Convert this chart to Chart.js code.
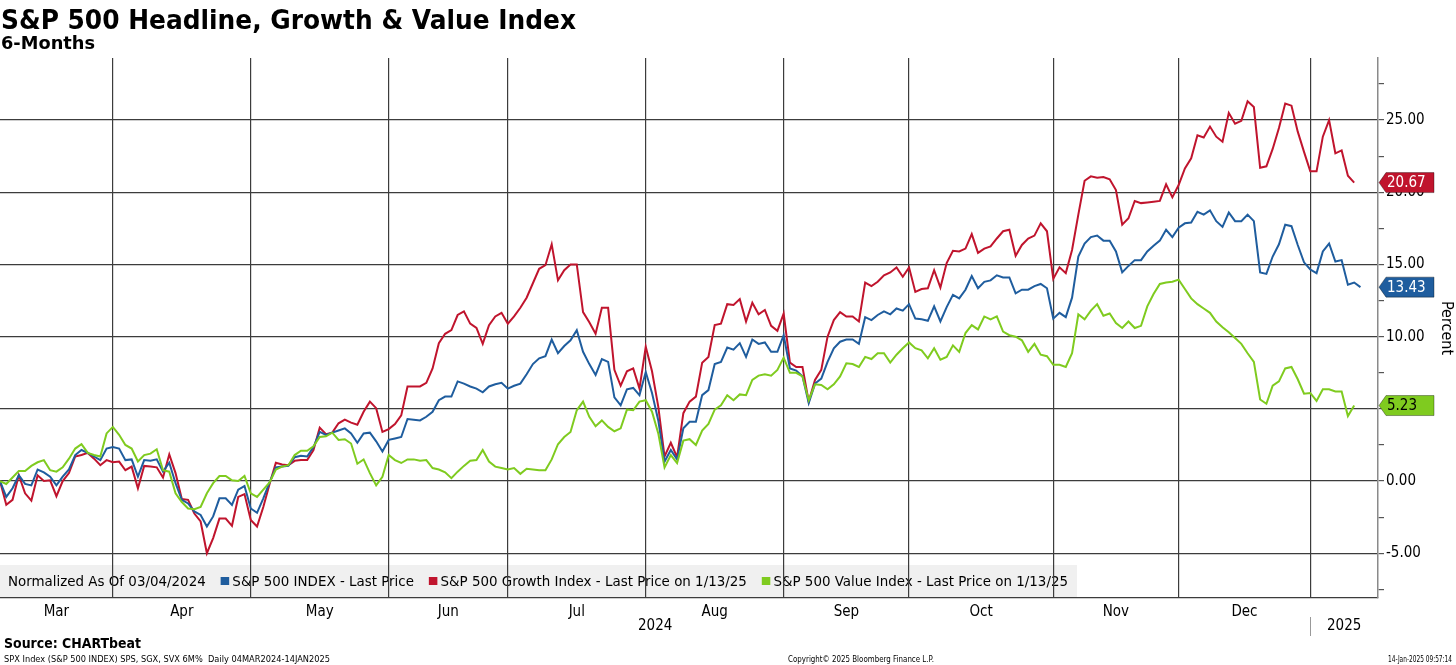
<!DOCTYPE html>
<html>
<head>
<meta charset="utf-8">
<script src="https://cdn.jsdelivr.net/npm/chart.js@4.4.1/dist/chart.umd.min.js"></script>
<style>
html, body { margin: 0; padding: 0; background: #fff; overflow: hidden; }
#wrap { position: relative; width: 1456px; height: 665px; }
canvas { position: absolute; left: 0; top: 0; }
.t { position: absolute; white-space: nowrap; color: #000; font-family: "DejaVu Sans", Verdana, sans-serif; transform-origin: 0 0; line-height: 1; }
</style>
</head>
<body>
<div id="wrap">
  <canvas id="myChart" width="1456" height="665"></canvas>
  <div class="t" data-w="575" style="left:1px;top:6px;font-size:27px;font-weight:bold">S&amp;P 500 Headline, Growth &amp; Value Index</div>
  <div class="t" data-w="94" style="left:1px;top:35px;font-size:17px;font-weight:bold">6-Months</div>
  <div class="t" data-w="137" style="left:4px;top:636px;font-size:14px;font-weight:bold">Source: CHARTbeat</div>
  <div class="t" data-w="326" style="left:4px;top:655px;font-size:9px">SPX Index (S&amp;P 500 INDEX) SPS, SGX, SVX 6M%&nbsp; Daily 04MAR2024-14JAN2025</div>
  <div class="t" data-w="146" style="left:788px;top:655px;font-size:9px">Copyright© 2025 Bloomberg Finance L.P.</div>
  <div class="t" data-w="64" style="left:1388px;top:655px;font-size:9px">14-Jan-2025 09:57:14</div>
</div>
<script>
// month labels and the index of the last trading day of each month (gridlines)
const monthLabels = ['Mar', 'Apr', 'May', 'Jun', 'Jul', 'Aug', 'Sep', 'Oct', 'Nov', 'Dec'];
const monthEnds = [18, 40, 62, 81, 103, 125, 145, 168, 188, 209];
const yearLabels = ['2024', '2025'];
const legendNote = 'Normalized As Of 03/04/2024';
const seriesNames = ['S&P 500 INDEX - Last Price', 'S&P 500 Growth Index - Last Price on 1/13/25', 'S&P 500 Value Index - Last Price on 1/13/25'];

// % change since 03/04/2024, one value per trading day
const spx = [
  0, -1.1, -0.5, 0.4, -0.2, -0.3, 0.8, 0.6, 0.3, -0.3, 0.3, 0.8, 1.8, 2.15, 1.95, 1.7, 1.45, 2.25, 2.35,
  2.25, 1.45, 1.5, 0.3, 1.45, 1.4, 1.5, 0.65, 1.27, -0.15, -1.3, -1.55, -2.1, -2.35, -3.15, -2.45, -1.2, -1.2, -1.65, -0.6, -0.35, -1.9,
  -2.2, -1.2, -0.1, 0.95, 1.0, 1.05, 1.65, 1.75, 1.7, 2.35, 3.4, 3.2, 3.35, 3.5, 3.65, 3.3, 2.65, 3.3, 3.35, 2.75, 2.05, 2.85,
  2.95, 3.05, 4.3, 4.25, 4.2, 4.45, 4.8, 5.6, 5.85, 5.85, 6.9, 6.75, 6.55, 6.4, 6.15, 6.55, 6.7, 6.8, 6.4,
  6.6, 6.75, 7.4, 8.1, 8.5, 8.65, 9.8, 8.85, 9.35, 9.75, 10.45, 8.95, 8.1, 7.35, 8.45, 8.25, 5.8, 5.25, 6.35, 6.45, 5.95, 7.55,
  6.1, 4.2, 1.35, 2.15, 1.5, 3.65, 4.1, 4.1, 5.95, 6.3, 8.1, 8.25, 9.25, 9.1, 9.55, 8.6, 9.8, 9.5, 9.6, 8.95, 8.95, 10.1,
  7.8, 7.65, 7.25, 5.4, 6.75, 7.1, 8.25, 9.2, 9.65, 9.8, 9.8, 9.5, 11.35, 11.15, 11.5, 11.75, 11.55, 11.95, 11.8, 12.25,
  11.25, 11.2, 11.1, 12.1, 11.05, 12.05, 12.9, 12.65, 13.25, 14.2, 13.35, 13.8, 13.9, 14.25, 14.1, 14.1, 13.0, 13.25, 13.25, 13.5, 13.65, 13.35, 11.25,
  11.65, 11.35, 12.7, 15.55, 16.45, 16.9, 17.0, 16.65, 16.65, 15.9, 14.45, 14.9, 15.3, 15.3, 15.9, 16.3, 16.65, 17.4, 16.9, 17.55,
  17.85, 17.9, 18.65, 18.45, 18.75, 18.0, 17.6, 18.6, 18.0, 18.0, 18.45, 18.0, 14.45, 14.35, 15.55, 16.4, 17.75, 17.65, 16.35, 15.15, 14.65,
  14.4, 15.9, 16.45, 15.2, 15.3, 13.6, 13.75, 13.43
];
const growth = [
  0, -1.65, -1.3, 0.4, -0.85, -1.35, 0.4, 0, 0.05, -1.05, 0, 0.55, 1.7, 1.8, 1.95, 1.55, 1.1, 1.45, 1.3,
  1.35, 0.75, 1.0, -0.5, 1.05, 1.0, 0.95, 0.25, 1.85, 0.55, -1.25, -1.3, -2.25, -2.8, -5.0, -3.95, -2.6, -2.6, -3.1, -1.1, -0.9, -2.7,
  -3.15, -1.8, -0.2, 1.27, 1.15, 1.1, 1.4, 1.45, 1.45, 2.15, 3.7, 3.25, 3.35, 4.0, 4.25, 4.05, 3.9, 4.8, 5.5, 5.05, 3.4, 3.6,
  3.95, 4.55, 6.55, 6.55, 6.55, 6.8, 7.8, 9.55, 10.2, 10.45, 11.5, 11.75, 10.9, 10.6, 9.5, 10.8, 11.4, 11.65, 10.9,
  11.4, 12.0, 12.7, 13.7, 14.7, 14.95, 16.4, 13.9, 14.6, 15.0, 15.0, 11.7, 11.0, 10.2, 12.0, 12.0, 7.7, 6.6, 7.6, 7.8, 6.4, 9.3,
  7.6, 5.15, 1.7, 2.65, 1.65, 4.7, 5.5, 5.85, 8.2, 8.6, 10.8, 10.9, 12.25, 12.2, 12.6, 11.05, 12.35, 11.55, 11.85, 10.75, 10.4, 11.6,
  8.2, 7.9, 7.9, 5.5, 7.0, 7.7, 10.0, 11.15, 11.7, 11.4, 11.4, 11.05, 13.75, 13.5, 13.8, 14.25, 14.45, 14.8, 14.15, 14.8,
  13.1, 13.3, 13.35, 14.6, 13.4, 15.1, 15.95, 15.9, 16.1, 17.1, 15.8, 16.1, 16.25, 16.8, 17.3, 17.4, 15.6, 16.35, 16.8, 17.0, 17.85, 17.3, 14.0,
  14.8, 14.4, 16.0, 18.45, 20.8, 21.1, 21.0, 21.05, 20.9, 20.15, 17.75, 18.2, 19.4, 19.25, 19.3, 19.35, 19.4, 20.55, 19.65, 20.5,
  21.65, 22.35, 23.95, 23.8, 24.55, 23.85, 23.5, 25.5, 24.75, 24.95, 26.3, 25.9, 21.7, 21.8, 23.0, 24.45, 26.15, 26.0, 24.2, 22.8, 21.45,
  21.45, 23.85, 25.0, 22.7, 22.9, 21.15, 20.67
];
const value = [
  0, -0.2, 0.25, 0.7, 0.7, 1.05, 1.3, 1.45, 0.75, 0.65, 0.95, 1.55, 2.25, 2.55, 1.95, 1.8, 1.7, 3.3, 3.75,
  3.2, 2.5, 2.25, 1.35, 1.8, 1.9, 2.2, 0.75, 0.65, -0.85, -1.45, -1.9, -1.95, -1.8, -0.85, -0.15, 0.35, 0.35, 0.05, 0, 0.35, -0.85,
  -1.1, -0.6, -0.1, 0.8, 1.0, 1.1, 1.8, 2.1, 2.1, 2.4, 3.05, 3.1, 3.35, 2.85, 2.9, 2.6, 1.2, 1.5, 0.55, -0.3, 0.3, 1.8,
  1.45, 1.25, 1.5, 1.5, 1.4, 1.45, 0.9, 0.8, 0.6, 0.2, 0.65, 1.05, 1.4, 1.45, 2.15, 1.35, 1.0, 0.9, 0.8,
  0.9, 0.5, 0.85, 0.8, 0.75, 0.75, 1.5, 2.55, 3.05, 3.4, 4.9, 5.5, 4.45, 3.8, 4.2, 3.75, 3.45, 3.65, 4.95, 4.9, 5.5, 5.6,
  4.8, 3.3, 0.95, 1.8, 1.25, 2.8, 2.9, 2.5, 3.5, 3.95, 4.95, 5.25, 5.95, 5.6, 6.0, 5.95, 7.0, 7.3, 7.4, 7.3, 7.7, 8.55,
  7.5, 7.5, 7.25, 5.6, 6.7, 6.65, 6.35, 6.7, 7.25, 8.15, 8.1, 7.9, 8.6, 8.45, 8.85, 8.85, 8.2, 8.75, 9.2, 9.6,
  9.2, 9.05, 8.5, 9.2, 8.4, 8.6, 9.4, 8.95, 10.25, 10.8, 10.5, 11.4, 11.2, 11.4, 10.35, 10.1, 10.0, 9.75, 8.95, 9.5, 8.75, 8.65, 8.05,
  8.05, 7.9, 8.85, 11.55, 11.2, 11.8, 12.25, 11.45, 11.6, 10.95, 10.6, 11.05, 10.6, 10.75, 12.1, 12.95, 13.65, 13.75, 13.8, 13.95,
  13.3, 12.65, 12.25, 11.95, 11.65, 11.05, 10.65, 10.3, 9.9, 9.5, 8.85, 8.25, 5.65, 5.35, 6.6, 6.9, 7.8, 7.9, 7.05, 6.05, 6.1,
  5.55, 6.35, 6.35, 6.2, 6.2, 4.5, 5.23
];

const colors = ['#1f5d9e', '#c0142d', '#7fcb1f'];
const tagText = ['#fff', '#fff', '#000'];
const FONT = '"DejaVu Sans Condensed", "DejaVu Sans", sans-serif';

// fit the html texts to their width in the picture
document.querySelectorAll('.t').forEach(el => {
    const w = el.getBoundingClientRect().width;
    el.style.transform = 'scaleX(' + (el.dataset.w / w) + ')';
});

const isMajor = v => Math.abs(v / 5 - Math.round(v / 5)) < 1e-6;

const legendBox = {
    id: 'legendBox',
    beforeDraw(chart) {
        const ctx = chart.ctx, area = chart.chartArea;
        ctx.save();
        ctx.fillStyle = '#f0f0f0';
        ctx.fillRect(area.left, area.bottom - 33, 1077, 32);
        ctx.font = '14px ' + FONT;
        ctx.textBaseline = 'middle';
        // natural widths, then squeeze to the width in the picture
        const gapText = 14, sq = 8, gapSq = 3;
        let total = ctx.measureText(legendNote).width;
        seriesNames.forEach(n => total += gapText + sq + gapSq + ctx.measureText(n).width);
        const sx = (1068 - 8) / total;
        const y = area.bottom - 16;
        ctx.translate(8, 0);
        ctx.scale(sx, 1);
        ctx.fillStyle = '#000';
        let x = 0;
        ctx.fillText(legendNote, x, y);
        x += ctx.measureText(legendNote).width;
        seriesNames.forEach((n, i) => {
            x += gapText;
            ctx.fillStyle = colors[i];
            ctx.fillRect(x, y - 5, sq, sq);
            x += sq + gapSq;
            ctx.fillStyle = '#000';
            ctx.fillText(n, x, y);
            x += ctx.measureText(n).width;
        });
        ctx.restore();
    }
};

const axisText = {
    id: 'axisText',
    afterDraw(chart) {
        const ctx = chart.ctx, area = chart.chartArea, xs = chart.scales.x, ys = chart.scales.y;
        ctx.save();
        ctx.font = '15px ' + FONT;
        ctx.fillStyle = '#000';
        ctx.textAlign = 'center';
        ctx.textBaseline = 'top';
        // month names between the month gridlines
        monthLabels.forEach((m, i) => {
            const a = i === 0 ? area.left : xs.getPixelForValue(monthEnds[i - 1]);
            const b = xs.getPixelForValue(monthEnds[i]);
            ctx.fillText(m, (a + b) / 2, area.bottom + 7);
        });
        const jan = xs.getPixelForValue(monthEnds[monthEnds.length - 1]);
        ctx.fillText(yearLabels[0], (area.left + jan) / 2, area.bottom + 21);
        ctx.fillText(yearLabels[1], (jan + area.right) / 2, area.bottom + 21);
        ctx.strokeStyle = '#999';
        ctx.lineWidth = 1;
        ctx.beginPath();
        ctx.moveTo(Math.round(jan) + 0.5, area.bottom + 19);
        ctx.lineTo(Math.round(jan) + 0.5, area.bottom + 38);
        ctx.stroke();

        // last value tags on the right axis
        ctx.textAlign = 'left';
        ctx.textBaseline = 'middle';
        chart.data.datasets.forEach((ds, i) => {
            const last = ds.data[ds.data.length - 1].y;
            const y = ys.getPixelForValue(last);
            const x0 = area.right + 1;
            ctx.fillStyle = ds.borderColor;
            ctx.beginPath();
            ctx.moveTo(x0, y);
            ctx.lineTo(x0 + 7, y - 10);
            ctx.lineTo(x0 + 55, y - 10);
            ctx.lineTo(x0 + 55, y + 10);
            ctx.lineTo(x0 + 7, y + 10);
            ctx.closePath();
            ctx.fill();
            ctx.strokeStyle = 'rgba(0,0,0,0.35)';
            ctx.stroke();
            ctx.fillStyle = tagText[i];
            ctx.fillText(last.toFixed(2), x0 + 8, y + 1);
        });
        ctx.restore();
    }
};

const toXY = arr => arr.map((v, i) => ({ x: i, y: v }));

const ctx = document.getElementById('myChart').getContext('2d');
const myChart = new Chart(ctx, {
    type: 'line',
    data: {
        datasets: [
            { label: seriesNames[0], data: toXY(spx), borderColor: colors[0], order: 1 },
            { label: seriesNames[1], data: toXY(growth), borderColor: colors[1], order: 2 },
            { label: seriesNames[2], data: toXY(value), borderColor: colors[2], order: 0 }
        ]
    },
    options: {
        responsive: false,
        animation: false,
        layout: { padding: { top: 58, left: 0, right: 0, bottom: 0 } },
        elements: {
            line: { borderWidth: 2, tension: 0 },
            point: { radius: 0 }
        },
        plugins: { legend: { display: false }, tooltip: { enabled: false } },
        scales: {
            x: {
                type: 'linear',
                min: 0,
                max: 219.8,
                afterBuildTicks: s => { s.ticks = monthEnds.map(v => ({ value: v })); },
                afterFit: s => { s.height = 67; },
                ticks: { display: false },
                grid: { color: '#3c3c3c', lineWidth: 1.2, drawTicks: false },
                border: { display: true, color: '#3c3c3c', width: 1.2 }
            },
            y: {
                position: 'right',
                min: -8.1,
                max: 29.3,
                afterFit: s => { s.width = 78; },
                ticks: {
                    stepSize: 2.5,
                    includeBounds: false,
                    color: '#000',
                    padding: 2,
                    font: { family: FONT, size: 15 },
                    callback: v => isMajor(v) ? v.toFixed(2) : ''
                },
                grid: {
                    color: c => isMajor(c.tick.value) ? '#3c3c3c' : 'rgba(0,0,0,0)',
                    lineWidth: 1.2,
                    tickColor: '#555',
                    tickLength: 6
                },
                border: { display: true, color: '#8a8a8a', width: 1.5 },
                title: {
                    display: true,
                    text: 'Percent',
                    color: '#000',
                    font: { family: FONT, size: 16 },
                    padding: { top: 0, bottom: 4 }
                }
            }
        }
    },
    plugins: [legendBox, axisText]
});
</script>
</body>
</html>
